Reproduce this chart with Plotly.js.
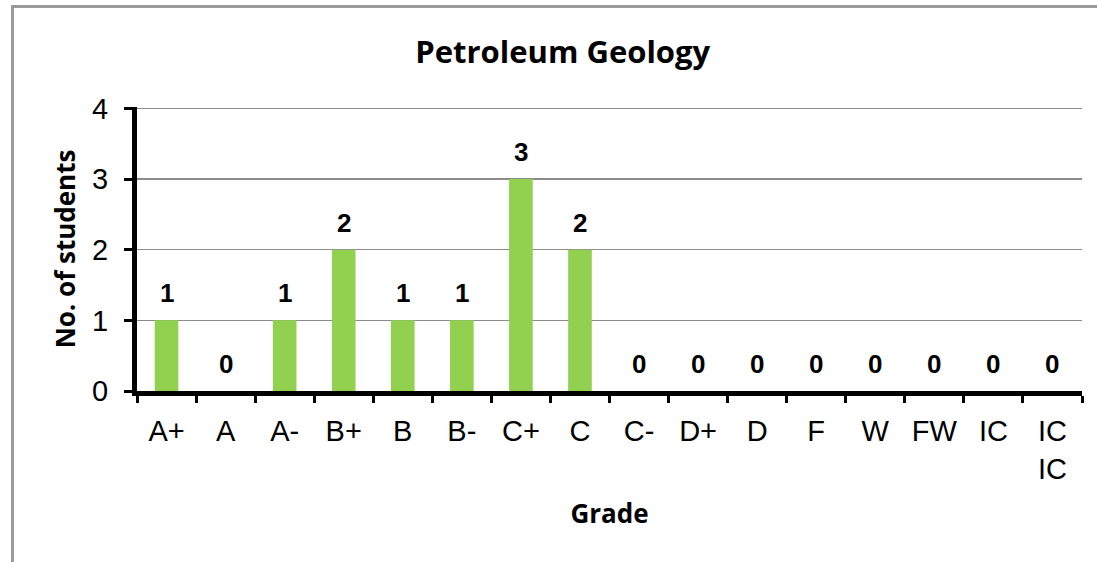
<!DOCTYPE html>
<html><head><meta charset="utf-8">
<script src="https://cdn.plot.ly/plotly-3.0.1.min.js"></script>
<style>
html,body{margin:0;padding:0;background:#fff;}
#wrap{position:relative;width:1097px;height:562px;overflow:hidden;}
#chart{position:absolute;left:0;top:0;width:1097px;height:562px;}
#frame{position:absolute;left:11px;top:5px;width:1200px;height:700px;border-left:3px solid #9a9a9a;border-top:3px solid #9a9a9a;pointer-events:none;}
</style></head>
<body><div id="wrap"><div id="chart"></div><div id="frame"></div></div>
<script>
const grades = ["A+","A","A-","B+","B","B-","C+","C","C-","D+","D","F","W","FW","IC","IC<br>IC"];
const students = [1,0,1,2,1,1,3,2,0,0,0,0,0,0,0,0];
const chartTitle = "Petroleum Geology";
const xTitle = "Grade";
const yTitle = "No. of students";

const trace = {
  type: "bar",
  x: grades,
  y: students,
  marker: {color: "#92d050"},
  hoverinfo: "none"
};

const labelFont = {family: "Liberation Sans, Arial, sans-serif", size: 26, color: "#000"};
const dataLabels = grades.map((g, i) => ({
  x: g, y: students[i], xref: "x", yref: "y",
  text: "<b>" + students[i] + "</b>",
  showarrow: false, yanchor: "bottom", xanchor: "center",
  yshift: 10, font: labelFont
}));

const layout = {
  width: 1097, height: 562,
  margin: {l: 137, r: 15, t: 107, b: 171},
  paper_bgcolor: "#fff", plot_bgcolor: "#fff",
  bargap: 0.6,
  showlegend: false,
  annotations: dataLabels,
  title: {text: "<b>" + chartTitle + "</b>", font: {family: "Open Sans, sans-serif", size: 31, color: "#000"}, x: 0.513, xanchor: "center", y: 0.907, yanchor: "middle"},
  xaxis: {
    type: "category",
    range: [-0.5, 15.5],
    tickson: "boundaries",
    ticks: "outside", ticklen: 7, tickwidth: 3, tickcolor: "#000",
    showline: true, linecolor: "#000", linewidth: 5,
    showgrid: false, zeroline: false,
    ticklabelstandoff: 10,
    tickfont: {family: "Liberation Sans, Arial, sans-serif", size: 29, color: "#000"},
    title: {text: "<b>" + xTitle + "</b>", font: {family: "Open Sans, sans-serif", size: 26, color: "#000"}, standoff: 23}
  },
  yaxis: {
    range: [0, 4.02], dtick: 1, tick0: 0,
    ticks: "outside", ticklen: 8, tickwidth: 3, tickcolor: "#000",
    showline: true, linecolor: "#000", linewidth: 5,
    showgrid: true, gridcolor: "#8c8c8c", gridwidth: 1.5,
    zeroline: false,
    ticklabelstandoff: 10,
    tickfont: {family: "Liberation Sans, Arial, sans-serif", size: 29, color: "#000"},
    title: {text: "<b>" + yTitle + "</b>", font: {family: "Open Sans, sans-serif", size: 26, color: "#000"}, standoff: 10}
  }
};

Plotly.newPlot("chart", [trace], layout, {displayModeBar: false, staticPlot: true});
</script></body></html>
